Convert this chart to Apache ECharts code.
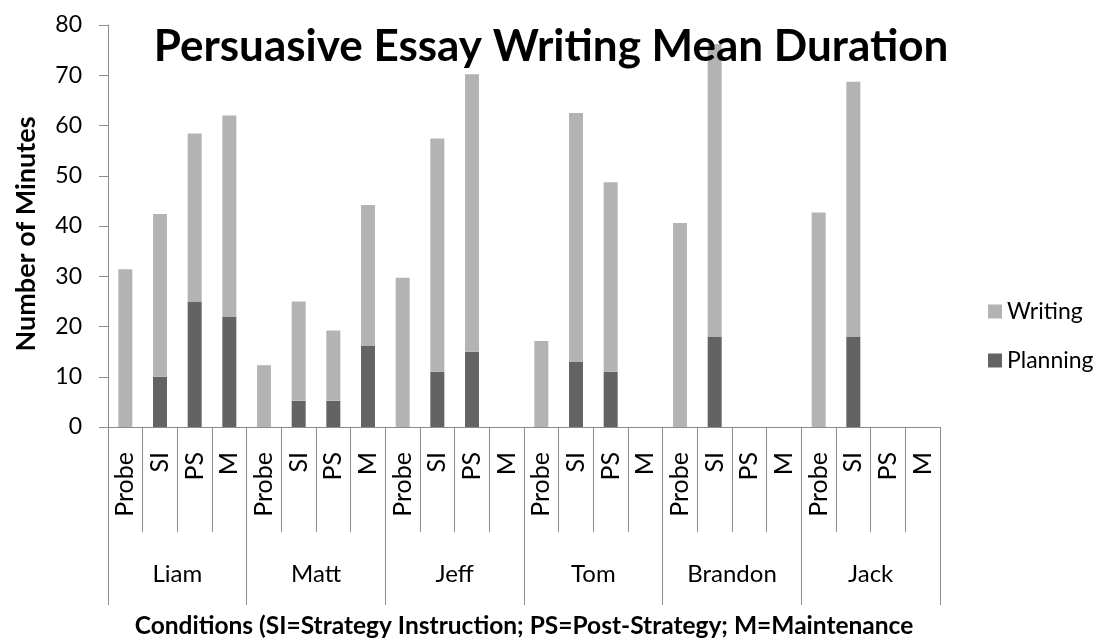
<!DOCTYPE html>
<html>
<head>
<meta charset="utf-8">
<script src="https://cdn.jsdelivr.net/npm/echarts@6/dist/echarts.min.js"></script>
<style>html,body{margin:0;padding:0;background:#fff}#c{width:1101px;height:638px}</style>
</head>
<body>
<div id="c"></div>
<script>
const students = ['Liam', 'Matt', 'Jeff', 'Tom', 'Brandon', 'Jack'];
const conditions = ['Probe', 'SI', 'PS', 'M'];
const planning = [0, 10, 25, 22, 0, 5.2, 5.2, 16.2, 0, 11, 15, 0, 0, 13, 11, 0, 0, 18, 0, 0, 0, 18, 0, 0];
const writing = [31.4, 32.4, 33.4, 40, 12.3, 19.8, 14, 28, 29.7, 46.4, 55.2, 0, 17.1, 49.5, 37.7, 0, 40.6, 58.2, 0, 0, 42.7, 50.7, 0, 0];
const yTicks = [0, 10, 20, 30, 40, 50, 60, 70, 80];

const categories = [];
students.forEach(s => conditions.forEach(c => categories.push(c)));
const F = 'Lato, "Open Sans", sans-serif';
const AX = '#8c8c8c';
const chart = echarts.init(document.getElementById('c'), null, { renderer: 'canvas' });
chart.setOption({
  animation: false,
  backgroundColor: '#fff',
  title: {
    text: 'Persuasive Essay Writing Mean Duration',
    left: 546, top: 20, textAlign: 'center',
    textStyle: { fontFamily: F, fontWeight: 'bold', fontSize: 44, color: '#000' }
  },
  legend: {
    orient: 'vertical', left: 983, top: 295, itemGap: 26,
    itemWidth: 14, itemHeight: 14, icon: 'rect',
    data: ['Writing', 'Planning'],
    textStyle: { fontFamily: F, fontSize: 23, color: '#000' }
  },
  grid: { left: 108, right: 161, top: 25, bottom: 211, containLabel: false, outerBoundsMode: 'none' },
  xAxis: [{
    type: 'category', position: 'bottom', data: categories,
    axisLine: { show: true, lineStyle: { color: AX } },
    axisTick: { show: true, interval: 0, length: 105, lineStyle: { color: AX } },
    axisLabel: { show: true, rotate: 90, interval: 0, margin: 25, fontFamily: F, fontSize: 25, color: '#000' }
  }, {
    type: 'category', position: 'bottom', data: students,
    axisLine: { show: true, lineStyle: { color: AX } },
    axisTick: { show: true, interval: 0, length: 178, lineStyle: { color: AX } },
    axisLabel: { show: true, interval: 0, margin: 135, fontFamily: F, fontSize: 24, color: '#000' },
    name: 'Conditions (SI=Strategy Instruction; PS=Post-Strategy; M=Maintenance',
    nameLocation: 'middle', nameGap: 187,
    nameTextStyle: { fontFamily: F, fontWeight: 'bold', fontSize: 24.5, color: '#000' }
  }],
  yAxis: {
    type: 'value', min: 0, max: 80, interval: 10,
    name: 'Number of Minutes', nameLocation: 'middle', nameGap: 68,
    nameTextStyle: { fontFamily: F, fontWeight: 'bold', fontSize: 27, color: '#000', padding: [0, 16, 0, 0] },
    axisLine: { show: true, lineStyle: { color: AX } },
    axisTick: { show: true, length: 9, lineStyle: { color: AX } },
    splitLine: { show: false },
    axisLabel: { margin: 26, fontFamily: F, fontSize: 23, color: '#000',
      formatter: v => yTicks.includes(v) ? String(v) : '' }
  },
  series: [{
    name: 'Planning', type: 'bar', stack: 'total', data: planning, barWidth: 14,
    itemStyle: { color: '#636363' }
  }, {
    name: 'Writing', type: 'bar', stack: 'total', data: writing, barWidth: 14,
    itemStyle: { color: '#b3b3b3' }
  }]
});
</script>
</body>
</html>
